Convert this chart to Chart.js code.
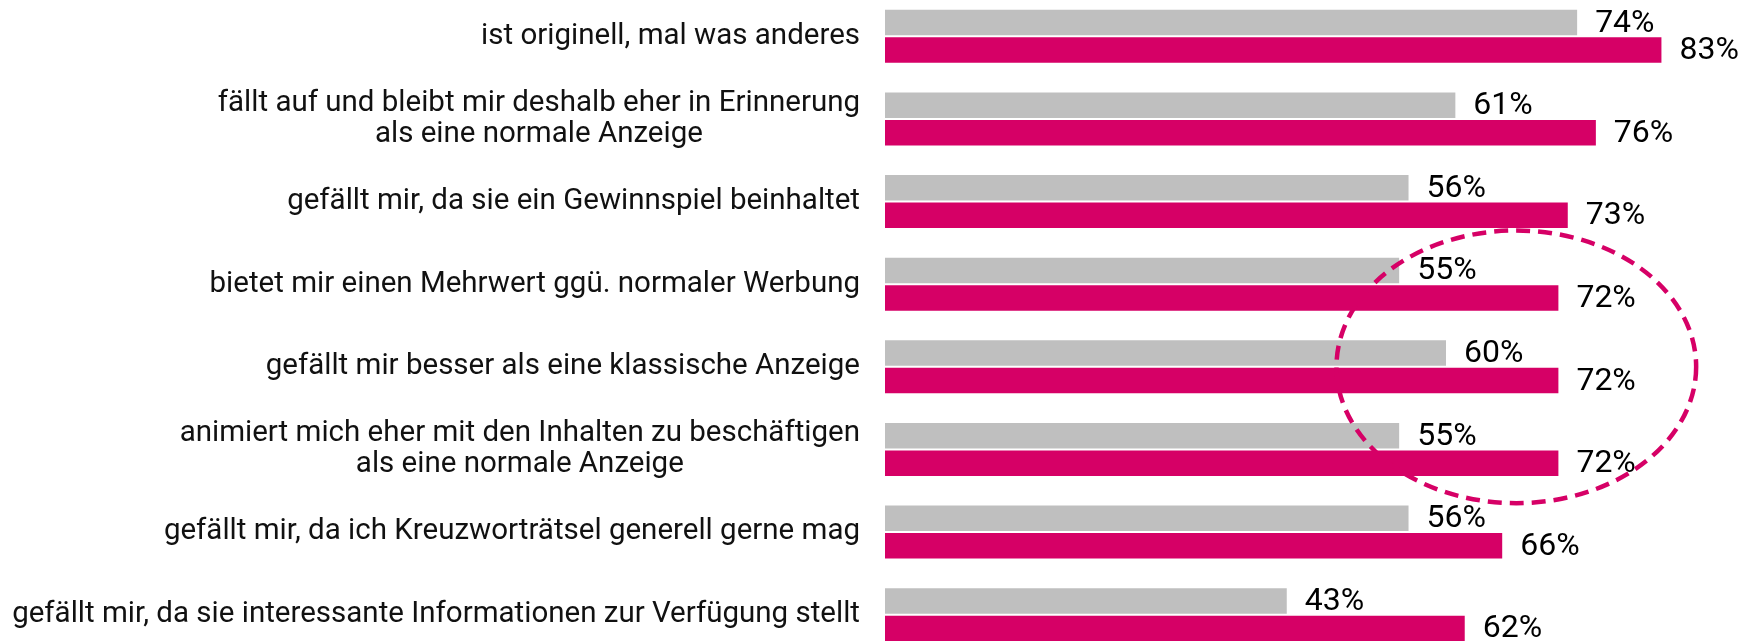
<!DOCTYPE html>
<html>
<head>
<meta charset="utf-8">
<script src="https://cdn.jsdelivr.net/npm/chart.js@4/dist/chart.umd.min.js"></script>
<style>
    html, body { margin: 0; padding: 0; background: #fff; overflow: hidden; width: 1742px; height: 641px; }
    #wrap { position: absolute; left: 0; top: -5px; width: 1742px; height: 661px; }
</style>
</head>
<body>
<div id="wrap"><canvas id="statementChart" width="1742" height="661"></canvas></div>
<script>
// chart data
const categories = [
    ['ist originell, mal was anderes'],
    ['fällt auf und bleibt mir deshalb eher in Erinnerung', 'als eine normale Anzeige'],
    ['gefällt mir, da sie ein Gewinnspiel beinhaltet'],
    ['bietet mir einen Mehrwert ggü. normaler Werbung'],
    ['gefällt mir besser als eine klassische Anzeige'],
    ['animiert mich eher mit den Inhalten zu beschäftigen', 'als eine normale Anzeige'],
    ['gefällt mir, da ich Kreuzworträtsel generell gerne mag'],
    ['gefällt mir, da sie interessante Informationen zur Verfügung stellt']
];
const seriesNames = ['Vergleich', 'Kreuzworträtsel-Anzeige'];
const greyValues = [74, 61, 56, 55, 60, 55, 56, 43];
const pinkValues = [83, 76, 73, 72, 72, 72, 66, 62];

// highlight ring around rows 4-6 (value units / category index)
const ringCenter = { x: 67.4, y: 4 };
const ringRadius = { x: 19.2, y: 1.65 };

const PINK = '#D60066';
const GREY = '#BFBFBF';

document.addEventListener('DOMContentLoaded', function () {
    drawStatementChart('statementChart');
});

// category labels: block right aligned, lines centred inside the block
const categoryLabelPlugin = {
    id: 'categoryLabels',
    afterDraw(chart) {
        const ctx = chart.ctx;
        const yScale = chart.scales.y;
        const rightEdge = 860;
        const lineHeight = 31;
        ctx.save();
        ctx.font = '29.5px Roboto';
        ctx.fillStyle = '#111';
        ctx.textBaseline = 'middle';
        ctx.textAlign = 'center';
        categories.forEach((lines, i) => {
            const blockWidth = Math.max(...lines.map(l => ctx.measureText(l).width));
            const cx = rightEdge - blockWidth / 2;
            const cy = yScale.getPixelForValue(i);
            const startY = cy - (lines.length - 1) * lineHeight / 2;
            lines.forEach((line, k) => {
                ctx.fillText(line, cx, startY + k * lineHeight);
            });
        });
        ctx.restore();
    }
};

// percent labels right of each bar
const valueLabelPlugin = {
    id: 'valueLabels',
    afterDatasetsDraw(chart) {
        const ctx = chart.ctx;
        ctx.save();
        ctx.font = '32px Roboto';
        ctx.fillStyle = '#000';
        ctx.textBaseline = 'middle';
        ctx.textAlign = 'left';
        chart.data.datasets.forEach((ds, di) => {
            const meta = chart.getDatasetMeta(di);
            meta.data.forEach((bar, i) => {
                ctx.fillText(`${ds.data[i]}%`, bar.x + 17, bar.y + 1);
            });
        });
        ctx.restore();
    }
};

// dashed ellipse
const ringPlugin = {
    id: 'ring',
    afterDraw(chart) {
        const { x, y } = chart.scales;
        const cx = x.getPixelForValue(ringCenter.x);
        const cy = y.getPixelForValue(ringCenter.y);
        const rx = x.getPixelForValue(ringCenter.x + ringRadius.x) - cx;
        const ry = y.getPixelForValue(ringCenter.y + ringRadius.y) - cy;
        const ctx = chart.ctx;
        ctx.save();
        ctx.strokeStyle = PINK;
        ctx.lineWidth = 4.5;
        ctx.setLineDash([14, 8]);
        ctx.beginPath();
        ctx.ellipse(cx, cy, rx, ry, 0, 0, Math.PI * 2);
        ctx.stroke();
        ctx.restore();
    }
};

function drawStatementChart(canvasId) {
    const canvas = document.getElementById(canvasId);
    const ctx = canvas.getContext('2d');

    canvas.chartInstance = new Chart(ctx, {
        type: 'bar',
        data: {
            labels: categories,
            datasets: [
                {
                    label: seriesNames[0],
                    data: greyValues,
                    backgroundColor: GREY,
                    borderColor: 'rgba(255,255,255,0.5)',
                    borderWidth: 1,
                    categoryPercentage: 0.666,
                    barPercentage: 1.0
                },
                {
                    label: seriesNames[1],
                    data: pinkValues,
                    backgroundColor: PINK,
                    borderColor: 'rgba(255,255,255,0.4)',
                    borderWidth: 1,
                    categoryPercentage: 0.666,
                    barPercentage: 1.0
                }
            ]
        },
        options: {
            indexAxis: 'y',
            responsive: false,
            animation: false,
            devicePixelRatio: 1,
            layout: { padding: { left: 885, right: 14, top: 0, bottom: 0 } },
            plugins: {
                legend: { display: false },
                tooltip: { enabled: false }
            },
            scales: {
                x: { display: false, min: 0, max: 90 },
                y: { display: false }
            }
        },
        plugins: [categoryLabelPlugin, valueLabelPlugin, ringPlugin]
    });
}
</script>
</body>
</html>
